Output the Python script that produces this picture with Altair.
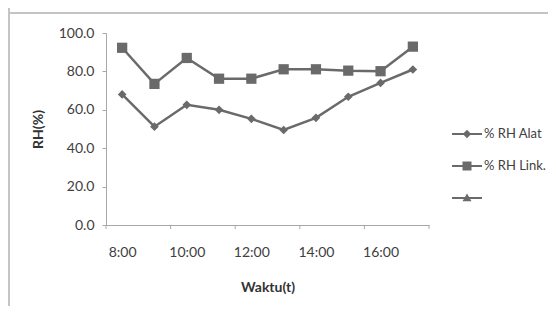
import json
import altair as alt
import pandas as pd

# ---- data ----
times = ["8:00", "9:00", "10:00", "11:00", "12:00", "13:00", "14:00", "15:00", "16:00", "17:00"]
series_names = ["% RH Alat", "% RH Link.", "_"]
rh_alat = [68.0, 51.2, 62.6, 60.0, 55.3, 49.5, 55.8, 66.8, 74.0, 81.0]
rh_link = [92.3, 73.5, 87.0, 76.2, 76.2, 81.1, 81.1, 80.4, 80.1, 92.9]
y_ticks = [0, 20, 40, 60, 80, 100]
x_tick_pos = [0, 2, 4, 6, 8, 10]
x_label_pos = [0.5, 2.5, 4.5, 6.5, 8.5]

rows = []
for name, vals in ((series_names[0], rh_alat), (series_names[1], rh_link)):
    for i, (t, v) in enumerate(zip(times, vals)):
        rows.append({"series": name, "time": t, "pos": i + 0.5, "rh": v})
df = pd.DataFrame(rows)
legend_df = pd.DataFrame({"series": series_names})
ticks_df = pd.DataFrame({"pos": x_tick_pos})
one = pd.DataFrame({"k": [0]})

GRAY = "#6a6a6a"
AXIS_GRAY = "#a8a8a8"
TXT = "#404040"
FONT = "Lato"
W, H = 323, 192
PL, PT = 98, 25
TOTAL_W, TOTAL_H = 540, 298

times_js = json.dumps(times).replace('"', "'")

x_axis = alt.Axis(
    values=x_label_pos,
    labelExpr=f"{times_js}[floor(datum.value)]",
    labelFlush=False,
    labelOverlap=False,
    ticks=False,
    tickSize=0,
    labelPadding=27,
    labelBaseline="middle",
    grid=False,
    title="Waktu(t)",
    titleX=W / 2,
    titleY=62,
    titleBaseline="middle",
)
x_scale = alt.Scale(domain=[0, 10], nice=False, zero=False)
y_axis = alt.Axis(
    values=y_ticks,
    format=".1f",
    ticks=True,
    tickSize=4,
    labelPadding=8,
    labelFlush=False,
    labelOverlap=False,
    grid=False,
    title="RH(%)",
    titleAngle=270,
    titleX=-68,
    titleY=H / 2,
    titleAlign="center",
    titleBaseline="middle",
)
y_scale = alt.Scale(domain=[0, 100], nice=False)

x_enc = alt.X("pos:Q", scale=x_scale, axis=x_axis)
y_enc = alt.Y("rh:Q", scale=y_scale, axis=y_axis)

base = alt.Chart(df)

lines = base.mark_line(color=GRAY, strokeWidth=2.5).encode(
    x=x_enc, y=y_enc, detail="series:N"
)

points = base.mark_point(filled=True, color=GRAY, opacity=1).encode(
    x=x_enc,
    y=y_enc,
    shape=alt.Shape(
        "series:N",
        scale=alt.Scale(domain=series_names[:2], range=["diamond", "square"]),
        legend=None,
    ),
    size=alt.Size(
        "series:N",
        scale=alt.Scale(domain=series_names[:2], range=[75, 105]),
        legend=None,
    ),
)

x_ticks = alt.Chart(ticks_df).mark_rule(color=AXIS_GRAY, strokeWidth=1).encode(
    x=x_enc, y=alt.value(H), y2=alt.value(H + 4)
)

# legend symbols: line segment + marker, as filled paths
legend_paths = [
    "M-1,-0.07H1V0.07H-1ZM0,-0.28L0.28,0L0,0.28L-0.28,0Z",
    "M-1,-0.07H1V0.07H-1ZM-0.3,-0.3H0.3V0.3H-0.3Z",
    "M-1,-0.07H1V0.07H-1ZM0,-0.3L0.3,0.22H-0.3Z",
]

legend_layer = alt.Chart(legend_df).mark_point(
    filled=True, color=GRAY, size=900, opacity=0
).encode(
    x=alt.value(0),
    y=alt.value(0),
    shape=alt.Shape(
        "series:N",
        scale=alt.Scale(domain=series_names, range=legend_paths),
        legend=alt.Legend(
            title=None,
            orient="none",
            legendX=345,
            legendY=85,
            symbolSize=900,
            symbolOpacity=1,
            symbolFillColor=GRAY,
            labelExpr="datum.label == '_' ? '' : datum.label",
            labelFont=FONT,
            labelFontSize=13,
            labelColor=TXT,
            labelOffset=1,
            rowPadding=8,
            padding=0,
        ),
    ),
)

frame_top = alt.Chart(one).mark_rule(color="#c4c4c4", strokeWidth=2).encode(
    x=alt.value(-PL), x2=alt.value(TOTAL_W - PL), y=alt.value(-20)
)
frame_left = alt.Chart(one).mark_rule(color="#c4c4c4", strokeWidth=2).encode(
    x=alt.value(-PL + 1), y=alt.value(-PT), y2=alt.value(TOTAL_H - PT)
)

chart = (
    alt.layer(frame_top, frame_left, lines, x_ticks, points, legend_layer)
    .resolve_scale(shape="independent", size="independent")
    .properties(
        width=W,
        height=H,
        autosize=alt.AutoSizeParams(type="none"),
        padding={"left": PL, "top": PT, "right": TOTAL_W - PL - W, "bottom": TOTAL_H - PT - H},
        background="white",
    )
    .configure_view(stroke=None)
    .configure_axis(
        domainColor=AXIS_GRAY,
        tickColor=AXIS_GRAY,
        labelColor=TXT,
        labelFont=FONT,
        labelFontSize=14,
        labelOverlap=False,
        titleFont=FONT,
        titleFontSize=14,
        titleFontWeight="bold",
        titleColor="#333333",
    )
)

chart.save("out.html", embed_options={"renderer": "svg", "actions": False})
